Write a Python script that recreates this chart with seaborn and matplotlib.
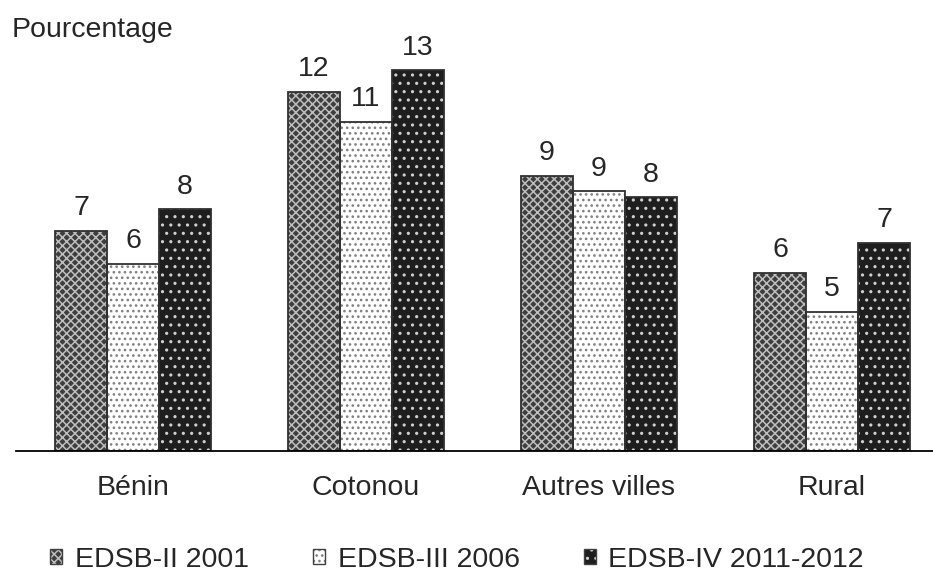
import pandas as pd
import matplotlib.pyplot as plt
import seaborn as sns
from matplotlib.patches import Rectangle, Patch

# Données (pourcentages)
categories = ['Bénin', 'Cotonou', 'Autres villes', 'Rural']
enquetes = ['EDSB-II 2001', 'EDSB-III 2006', 'EDSB-IV 2011-2012']
edsb_2001 = [7.3, 11.9, 9.1, 5.9]
edsb_2006 = [6.2, 10.9, 8.6, 4.6]
edsb_2011 = [8.0, 12.6, 8.4, 6.9]

sns.set_style('white')
plt.rcParams['font.family'] = ['Liberation Sans', 'DejaVu Sans']
plt.rcParams['hatch.linewidth'] = 1.1

FS = 20.5

df = pd.DataFrame({
    'Localite': categories * 3,
    'Enquete': [e for e in enquetes for _ in categories],
    'Pourcentage': edsb_2001 + edsb_2006 + edsb_2011,
})

# style de chaque série : fond, motif, couleur du motif
styles = {
    'EDSB-II 2001': ('#3e3e3e', 'xxxx', '#bfbfbf'),
    'EDSB-III 2006': ('#ffffff', '...', '#808080'),
    'EDSB-IV 2011-2012': ('#1e1e1e', '..', '#d0d0d0'),
}

fig = plt.figure(figsize=(9.33, 5.73), dpi=100)
ax = fig.add_axes([16.5 / 933, 122 / 573, 932 / 933, 411 / 573])

sns.barplot(data=df, x='Localite', y='Pourcentage', hue='Enquete',
            hue_order=enquetes, order=categories, width=0.67,
            palette=[styles[e][0] for e in enquetes], legend=False,
            saturation=1, ax=ax)

for enq, cont in zip(enquetes, ax.containers):
    face, hatch, hcol = styles[enq]
    for p in cont:
        p.set_facecolor(face)
        p.set_hatch(hatch)
        p.set_edgecolor(hcol)
        p.set_linewidth(0)
        # contour foncé par-dessus le motif
        ax.add_patch(Rectangle((p.get_x(), p.get_y()), p.get_width(), p.get_height(),
                               fill=False, edgecolor='#303030', linewidth=1.3))
    ax.bar_label(cont, labels=[f'{v:.0f}' for v in cont.datavalues],
                 padding=7, fontsize=FS)

ax.set_ylim(0, 411 / 30.2)
ax.set_xlim(-0.5, 3.5)
ax.set_xlabel('')
ax.set_ylabel('')
ax.set_yticks([])
ax.tick_params(axis='x', length=0, labelsize=FS, pad=17)
for s in ['top', 'left', 'right']:
    ax.spines[s].set_visible(False)
ax.spines['bottom'].set_color('black')
ax.spines['bottom'].set_linewidth(1.3)

fig.text(12 / 933, 1 - 37 / 573, 'Pourcentage', fontsize=FS, va='baseline', ha='left')

handles = [(Patch(facecolor=styles[e][0], hatch=styles[e][1], edgecolor=styles[e][2], linewidth=0),
            Patch(fill=False, edgecolor='#404040', linewidth=1.0)) for e in enquetes]
fig.legend(handles, enquetes, loc='center left', bbox_to_anchor=(50 / 933, 1 - 560 / 573),
           ncol=3, frameon=False, fontsize=FS, handlelength=0.42, handleheight=0.42,
           handletextpad=0.45, columnspacing=2.25, borderpad=0, borderaxespad=0)

plt.savefig('out.png', dpi=100)
